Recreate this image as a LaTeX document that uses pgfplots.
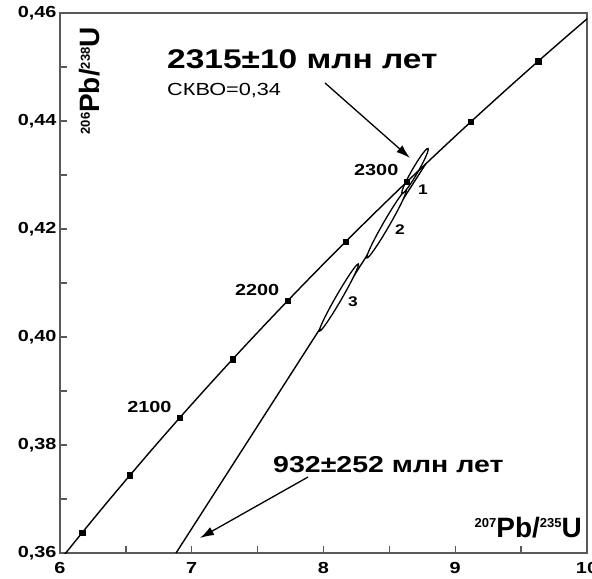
\documentclass[border=0pt]{standalone}
\usepackage{pgfplots}
\pgfplotsset{compat=1.18}
\usetikzlibrary{arrows.meta}
\usepackage{fontspec}
\setmainfont{Liberation Sans}[FakeStretch=1.24]
\newfontfamily\plainfont{Liberation Sans}
\newcommand\iso[1]{\raisebox{10pt}{\fontsize{13}{13}\selectfont #1}}

\begin{document}
\begin{tikzpicture}
\begin{axis}[
  width=527pt, height=540pt, scale only axis,
  xmin=6, xmax=10, ymin=0.36, ymax=0.46,
  xtick={6,7,8,9,10},
  ytick={0.36,0.38,0.40,0.42,0.44,0.46},
  minor x tick num=1, minor y tick num=1,
  tick pos=left, tick align=inside,
  major tick length=7pt, minor tick length=7pt,
  tick style={black!65, line width=1.3pt},
  axis line style={black!65, line width=1.5pt},
  tick label style={font=\fontsize{16}{16}\selectfont\bfseries},
  xticklabel style={yshift=-6pt},
  /pgf/number format/assume math mode=true,
  yticklabel style={/pgf/number format/.cd, fixed, fixed zerofill, precision=2, use comma},
]
\coordinate (sw) at (rel axis cs:0,0);
\coordinate (ne) at (rel axis cs:1,1);

% discordia
\addplot[black, line width=1.4pt] coordinates {(6.8809,0.36) (8.7760,0.43206)};

% error ellipses
\addplot[black, line width=1.3pt, fill=white, smooth] coordinates {
  (8.1373,0.40704) (8.0796,0.40469) (8.0277,0.40274) (7.9895,0.40148)
  (7.9707,0.40111) (7.9744,0.40169) (7.9998,0.40313) (8.0432,0.40520)
  (8.0979,0.40760) (8.1556,0.40995) (8.2075,0.41191) (8.2457,0.41316)
  (8.2645,0.41353) (8.2608,0.41295) (8.2354,0.41151) (8.1920,0.40944)
  (8.1373,0.40704)};
\addplot[black, line width=1.3pt, fill=white, smooth] coordinates {
  (8.4992,0.42063) (8.4407,0.41825) (8.3879,0.41628) (8.3488,0.41501)
  (8.3294,0.41464) (8.3327,0.41523) (8.3581,0.41669) (8.4019,0.41880)
  (8.4572,0.42123) (8.5157,0.42361) (8.5685,0.42559) (8.6076,0.42685)
  (8.6270,0.42722) (8.6237,0.42663) (8.5983,0.42517) (8.5546,0.42306)
  (8.4992,0.42063)};
\addplot[black, line width=1.3pt, fill=white, smooth] coordinates {
  (8.7142,0.43046) (8.6750,0.42889) (8.6387,0.42759) (8.6109,0.42678)
  (8.5958,0.42657) (8.5958,0.42699) (8.6108,0.42799) (8.6385,0.42940)
  (8.6748,0.43102) (8.7140,0.43259) (8.7503,0.43389) (8.7781,0.43470)
  (8.7932,0.43491) (8.7932,0.43449) (8.7782,0.43349) (8.7505,0.43208)
  (8.7142,0.43046)};

% concordia
\addplot[black, line width=1.4pt, smooth] coordinates {
  (5.9942,0.35849) (6.1685,0.36377) (6.3472,0.36907) (6.5304,0.37438)
  (6.7181,0.37973) (6.9105,0.38509) (7.1076,0.39047) (7.3097,0.39587)
  (7.5169,0.40129) (7.7292,0.40674) (7.9468,0.41221) (8.1698,0.41769)
  (8.3984,0.42320) (8.6326,0.42873) (8.8727,0.43428) (9.1188,0.43986)
  (9.3711,0.44545) (9.6296,0.45107) (9.8945,0.45670) (10.1661,0.46236)};
\addplot[only marks, mark=square*, mark size=2.7pt, black] coordinates {
  (6.1685,0.36377) (6.5304,0.37438) (6.9105,0.38509) (7.3097,0.39587)
  (7.7292,0.40674) (8.1698,0.41769) (8.6326,0.42873) (9.1188,0.43986)
  (9.6296,0.45107)};

% age labels on concordia
\node[anchor=base east, font=\fontsize{16}{16}\selectfont\bfseries, xshift=-5pt, yshift=5.5pt] at (axis cs:6.9105,0.38509) {2100};
\node[anchor=base east, font=\fontsize{16}{16}\selectfont\bfseries, xshift=-5pt, yshift=5.5pt] at (axis cs:7.7292,0.40674) {2200};
\node[anchor=base east, font=\fontsize{16}{16}\selectfont\bfseries, xshift=-5pt, yshift=6.5pt] at (axis cs:8.6326,0.42873) {2300};

% ellipse numbers
\node[font=\fontsize{14}{14}\selectfont\bfseries] at (axis cs:8.7552,0.42722) {1};
\node[font=\fontsize{14}{14}\selectfont\bfseries] at (axis cs:8.5806,0.41981) {2};
\node[font=\fontsize{14}{14}\selectfont\bfseries] at (axis cs:8.2239,0.40648) {3};

% annotations
\node[anchor=base west, inner sep=0pt, font=\fontsize{27}{27}\selectfont\bfseries] at (axis cs:6.812,0.44963) {2315±10 млн лет};
\node[anchor=base west, inner sep=0pt, font=\fontsize{17.5}{17.5}\selectfont] at (axis cs:6.812,0.44481) {СКВО=0,34};
\draw[black, line width=1.3pt, -{Latex[length=14pt,width=9pt]}] (axis cs:8.0114,0.44704) -- (axis cs:8.6565,0.43315);

\node[anchor=base west, inner sep=0pt, font=\fontsize{23}{23}\selectfont\bfseries] at (axis cs:7.6167,0.375) {932±252 млн лет};
\draw[black, line width=1.3pt, -{Latex[length=14pt,width=9pt]}] (axis cs:7.8824,0.37407) -- (axis cs:7.0626,0.36278);

% axis labels
\node[anchor=base east, inner sep=0pt, font=\plainfont\fontsize{28}{28}\selectfont\bfseries] at (rel axis cs:0.9905,0.028) {\iso{207}Pb/\iso{235}U};
\node[anchor=base east, inner sep=0pt, rotate=90, font=\plainfont\fontsize{28}{28}\selectfont\bfseries] at (rel axis cs:0.0759,0.974) {\iso{206}Pb/\iso{238}U};
\end{axis}
\pgfresetboundingbox
\path[use as bounding box] ([xshift=-60pt,yshift=-25pt]sw) rectangle ([xshift=5pt,yshift=13pt]ne);
\end{tikzpicture}
\end{document}
